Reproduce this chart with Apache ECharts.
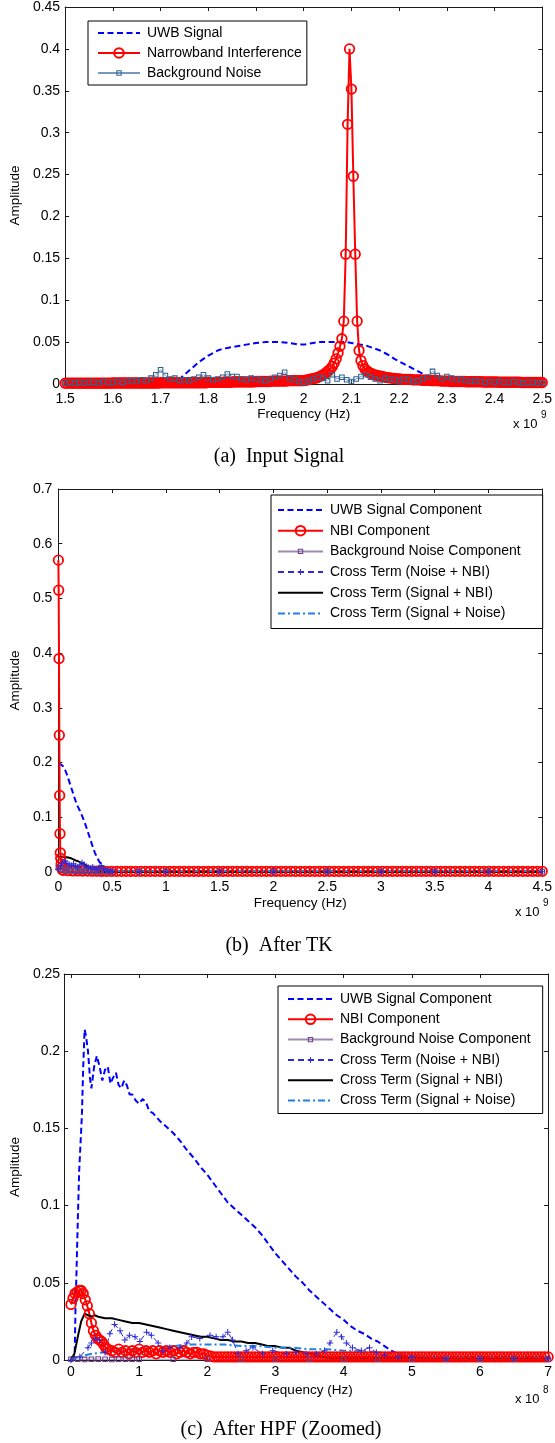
<!DOCTYPE html>
<html><head><meta charset="utf-8">
<script src="https://cdn.jsdelivr.net/npm/echarts@6/dist/echarts.min.js"></script>
<style>html,body{margin:0;padding:0;background:#fff}#c{width:555px;height:1443px}</style>
</head><body><div id="c"></div>
<script>
// ---------------- (a) Input Signal ----------------
const aXTicks = {min: 1.5, max: 2.5, interval: 0.1};
const aYTicks = {min: 0, max: 0.45, interval: 0.05};
const aUwbStart = 1.5, aUwbStep = 0.01;
const aUwb = [0.001,0.001,0.001,0.001,0.001,0.001,0.001,0.001,0.001,0.001,0.001,0.001,0.001,0.001,0.001,0.001,0.001,0.001,0.001,0.001,0.001,0.001,0.001,
0.002,0.006,0.011,0.016,0.021,0.026,0.03,0.034,0.037,0.04,0.042,0.043,0.044,0.045,0.046,0.047,0.048,0.049,0.0495,0.05,0.05,0.05,0.05,0.0495,0.049,0.048,0.047,
0.047,0.048,0.049,0.05,0.05,0.05,0.05,0.05,0.05,0.05,0.049,0.048,0.047,0.046,0.044,0.042,0.04,0.037,0.034,0.03,0.027,0.024,0.021,0.018,0.015,0.012,0.009,0.006,0.004,0.002,
0.001,0.001,0.001,0.001,0.001,0.001,0.001,0.001,0.001,0.001,0.001,0.001,0.001,0.001,0.001,0.001,0.001,0.001,0.001,0.001,0.001];
const aNbiStart = 1.5, aNbiStep = 0.004;
const aNbi = [
0.001,0.001,0.001,0.001,0.001,0.001,0.001,0.001,0.001,0.001,0.001,0.001,0.001,0.001,0.001,0.001,0.001,0.001,0.001,0.001,0.001,0.001,0.001,0.001,0.001,
0.0012,0.0012,0.0012,0.0012,0.0012,0.0012,0.0012,0.0012,0.0012,0.0012,0.0012,0.0012,0.0012,0.0012,0.0012,0.0012,0.0012,0.0012,0.0012,0.0012,0.0012,0.0012,0.0012,0.0012,0.0012,
0.0015,0.0015,0.0015,0.0015,0.0015,0.0015,0.0015,0.0015,0.0015,0.0015,0.0015,0.0015,0.0015,0.0015,0.0015,0.0015,0.0015,0.0015,0.0015,0.0015,0.0015,0.0015,0.0015,0.0015,0.0015,
0.002,0.002,0.002,0.002,0.002,0.002,0.002,0.002,0.002,0.002,0.002,0.002,0.002,0.0025,0.0025,0.0025,0.0025,0.0025,0.0025,0.0025,0.0025,0.0025,0.0025,0.0025,0.0025,
0.003,0.003,0.003,0.003,0.003,0.003,0.003,0.003,0.0035,0.0035,0.0035,0.0035,0.0035,0.0035,0.0035,0.0035,0.0035,0.004,0.004,0.004,0.004,0.004,0.004,0.004,0.004,0.004,
0.0045,0.005,0.0055,0.006,0.0065,0.007,0.0075,0.0085,0.0095,0.011,0.012,0.014,0.016,0.018,0.021,
0.025,0.03,0.037,0.045,0.054,0.075,0.155,0.31,
0.4,
0.352,0.248,0.155,0.075,0.04,0.028,0.022,0.018,0.016,0.014,0.013,0.012,
0.011,0.0105,0.01,0.0095,0.009,0.0085,0.008,0.0077,0.0074,0.0071,0.0068,0.0065,0.0062,0.006,0.0057,
0.0055,0.0055,0.0055,0.0055,0.0055,0.005,0.005,0.005,0.005,0.005,0.0045,0.0045,0.0045,0.0045,0.0045,0.004,0.004,0.004,0.004,0.004,0.0035,0.0035,0.0035,0.0035,0.0035,
0.003,0.003,0.003,0.003,0.003,0.003,0.003,0.003,0.0027,0.0027,0.0027,0.0027,0.0027,0.0027,0.0027,0.0027,0.0027,0.0024,0.0024,0.0024,0.0024,0.0024,0.0024,0.0024,0.0024,
0.0021,0.0021,0.0021,0.0021,0.0021,0.0021,0.0021,0.0021,0.0021,0.0021,0.0021,0.0021,0.0018,0.0018,0.0018,0.0018,0.0018,0.0018,0.0018,0.0018,0.0018,0.0018,0.0018,0.0018];
const aNoiseStart = 1.5, aNoiseStep = 0.01;
const aNoise = [0.001,0.002,0.001,0.002,0.001,0.002,0.002,0.001,0.003,0.002,
0.002,0.003,0.002,0.003,0.004,0.003,0.005,0.004,0.007,0.011,
0.017,0.01,0.006,0.007,0.004,0.005,0.004,0.006,0.008,0.011,
0.007,0.005,0.006,0.008,0.012,0.009,0.009,0.006,0.005,0.007,
0.006,0.005,0.004,0.006,0.008,0.01,0.014,0.007,0.005,0.003,
0.002,0.004,0.006,0.008,0.007,0.004,0.011,0.006,0.008,0.005,
0.003,0.006,0.009,0.011,0.008,0.006,0.004,0.007,0.006,0.005,
0.004,0.006,0.005,0.003,0.004,0.006,0.008,0.015,0.01,0.006,
0.009,0.007,0.005,0.006,0.004,0.003,0.004,0.003,0.002,0.003,
0.002,0.003,0.002,0.002,0.003,0.002,0.001,0.002,0.002,0.001,0.001];

// ---------------- (b) After TK ----------------
const bXTicks = {min: 0, max: 4.5, interval: 0.5};
const bYTicks = {min: 0, max: 0.7, interval: 0.1};
const bX = [0,0.02,0.04,0.06,0.08,0.1,0.12,0.14,0.16,0.18,0.2,0.22,0.24,0.26,0.28,0.3,0.32,0.34,0.36,0.38,0.4,0.42,0.44,0.46,0.48,0.5,0.75,1,1.5,2,2.5,3,3.5,4,4.5];
const bUwb = [0.198,0.197,0.194,0.188,0.178,0.166,0.154,0.142,0.13,0.12,0.112,0.103,0.093,0.082,0.07,0.058,0.046,0.035,0.026,0.019,0.014,0.01,0.006,0.004,0.002,0.001,0.001,0.001,0.001,0.001,0.001,0.001,0.001,0.001,0.001];
const bNoise = [0.008,0.004,0.006,0.003,0.002,0.004,0.002,0.003,0.002,0.001,0.002,0.001,0.002,0.001,0.001,0.002,0.001,0.001,0.001,0.001,0.001,0.001,0.001,0.0005,0.0005,0.0005,0.0005,0.0005,0.0005,0.0005,0.0005,0.0005,0.0005,0.0005,0.0005];
const bCrossNoiseNbi = [0.005,0.012,0.018,0.02,0.016,0.014,0.012,0.015,0.011,0.009,0.013,0.017,0.014,0.01,0.008,0.007,0.009,0.006,0.005,0.008,0.012,0.007,0.004,0.003,0.002,0.001,0.0005,0.0005,0.0005,0.0005,0.0005,0.0005,0.0005,0.0005,0.0005];
const bCrossSigNbi = [0.027,0.028,0.028,0.027,0.027,0.026,0.025,0.023,0.021,0.02,0.018,0.016,0.014,0.012,0.01,0.009,0.007,0.005,0.004,0.002,0.001,0.0005,0.0005,0.0005,0.0005,0.0005,0.0005,0.0005,0.0005,0.0005,0.0005,0.0005,0.0005,0.0005,0.0005];
const bCrossSigNoise = [0.01,0.011,0.012,0.012,0.012,0.012,0.011,0.011,0.01,0.01,0.01,0.009,0.009,0.008,0.008,0.007,0.006,0.005,0.005,0.004,0.004,0.003,0.003,0.003,0.002,0.002,0.002,0.002,0.002,0.002,0.002,0.002,0.002,0.002,0.002];
const bNbiHeadX = [0,0.003,0.006,0.009,0.012,0.015,0.018,0.022,0.026,0.031,0.037];
const bNbiHeadY = [0.57,0.515,0.39,0.25,0.14,0.07,0.035,0.025,0.015,0.008,0.004];
const bNbiTailStart = 0.045, bNbiTailStep = 0.045;
const bNbiTail = [0.003,0.0025,0.002,0.002,0.0018,0.0016,0.0015,0.0015,0.0014,0.0013,
0.0012,0.0012,0.0012,0.0012,0.0012,0.0012,0.0012,0.0012,0.0012,0.0012,
0.0012,0.0012,0.0012,0.0012,0.0012,0.0012,0.0012,0.0012,0.0012,0.0012,
0.0012,0.0012,0.0012,0.0012,0.0012,0.0012,0.0012,0.0012,0.0012,0.0012,
0.0012,0.0012,0.0012,0.0012,0.0012,0.0012,0.0012,0.0012,0.0012,0.0012,
0.0012,0.0012,0.0012,0.0012,0.0012,0.0012,0.0012,0.0012,0.0012,0.0012,
0.0012,0.0012,0.0012,0.0012,0.0012,0.0012,0.0012,0.0012,0.0012,0.0012,
0.0012,0.0012,0.0012,0.0012,0.0012,0.0012,0.0012,0.0012,0.0012,0.0012,
0.0012,0.0012,0.0012,0.0012,0.0012,0.0012,0.0012,0.0012,0.0012,0.0012,
0.0012,0.0012,0.0012,0.0012,0.0012,0.0012,0.0012,0.0012,0.0012,0.0012];

// ---------------- (c) After HPF (Zoomed) ----------------
const cXTicks = {min: -0.1, max: 7, labels: [0,1,2,3,4,5,6,7]};
const cYTicks = {min: 0, max: 0.25, interval: 0.05};
const cUwbX = [0,0.04,0.055,0.065,0.08,0.1,0.12,0.14,0.16,0.18,0.2,0.22,0.25,0.28,0.3,0.34,0.38,0.42,0.46,0.5,0.54,0.58,0.62,0.66,0.7,0.74,0.78,0.82,0.86,0.9,0.95,1.0,1.05,1.1,1.15,1.2,1.3,1.4,1.5,1.6,1.7,1.8,1.9,2.0,2.1,2.2,2.3,2.4,2.5,2.6,2.7,2.8,2.9,3.0,3.1,3.2,3.3,3.4,3.5,3.6,3.7,3.8,3.9,4.0,4.1,4.2,4.3,4.4,4.5,4.6,4.7,4.8,4.9,5.0,5.5,6.0,6.5,7.0];
const cUwbY = [0,0.001,0.005,0.03,0.055,0.09,0.122,0.14,0.158,0.19,0.214,0.21,0.2,0.182,0.176,0.19,0.197,0.19,0.181,0.188,0.19,0.179,0.183,0.186,0.178,0.176,0.181,0.178,0.172,0.172,0.168,0.166,0.169,0.167,0.161,0.16,0.155,0.151,0.147,0.142,0.136,0.131,0.125,0.12,0.114,0.108,0.102,0.098,0.094,0.09,0.086,0.081,0.075,0.069,0.064,0.059,0.054,0.05,0.045,0.041,0.037,0.033,0.029,0.026,0.022,0.019,0.017,0.014,0.012,0.009,0.006,0.004,0.003,0.002,0.001,0.001,0.001,0.001];
const cNbiHeadX = [0,0.03,0.06,0.09,0.12,0.15,0.18,0.21,0.24,0.27,0.3,0.33,0.36,0.39,0.42,0.45,0.48,0.51,0.54];
const cNbiHeadY = [0.036,0.04,0.043,0.044,0.045,0.045,0.043,0.039,0.035,0.03,0.024,0.019,0.016,0.014,0.013,0.012,0.01,0.008,0.007];
const cNbiTailStart = 0.6, cNbiTailStep = 0.05;
const cNbiTail = [0.006,0.005,0.007,0.005,0.006,0.004,0.006,0.005,0.007,0.005,0.006,0.005,0.006,0.004,0.006,0.005,0.006,0.005,0.006,0.004,0.005,0.006,0.005,0.004,0.005,0.005,0.004,0.004,0.003,
0.0025,0.002,0.002,0.002,0.002,0.002,0.002,0.002,0.002,0.002,0.002,0.002,0.002,0.002,0.002,0.002,0.002,0.002,0.002,0.002,
0.002,0.002,0.002,0.002,0.002,0.002,0.002,0.002,0.002,0.002,0.002,0.002,0.002,0.002,0.002,0.002,0.002,0.002,0.002,0.002,
0.002,0.002,0.002,0.002,0.002,0.002,0.002,0.002,0.002,0.002,0.002,0.002,0.002,0.002,0.002,0.002,0.002,0.002,0.002,0.002,
0.002,0.002,0.002,0.002,0.002,0.002,0.002,0.002,0.002,0.002,0.002,0.002,0.002,0.002,0.002,0.002,0.002,0.002,0.002,0.002,
0.002,0.002,0.002,0.002,0.002,0.002,0.002,0.002,0.002,0.002,0.002,0.002,0.002,0.002,0.002,0.002,0.002,0.002,0.002,0.002];
const cNoiseX = [0,0.1,0.2,0.3,0.4,0.5,0.6,0.7,0.8,0.9,1.0,1.5,2,2.5,3,3.5,4,4.5,5,5.5,6,6.5,7];
const cNoiseY = [0.0005,0.0006,0.0004,0.0005,0.0006,0.0005,0.0004,0.0005,0.0006,0.0005,0.0005,0.0005,0.0005,0.0005,0.0005,0.0005,0.0005,0.0005,0.0005,0.0005,0.0005,0.0005,0.0005];
const cCrossNoiseNbiX = [0,0.13,0.25,0.3,0.35,0.42,0.5,0.57,0.64,0.72,0.79,0.86,0.94,1.01,1.11,1.18,1.28,1.35,1.45,1.6,1.7,1.77,1.89,2.04,2.13,2.23,2.3,2.37,2.45,2.57,2.67,2.81,2.96,3.16,3.3,3.45,3.6,3.72,3.8,3.9,3.97,4.04,4.13,4.26,4.38,4.48,4.6,4.8,5.0,5.5,6.0,6.5,7.0];
const cCrossNoiseNbiY = [0,0.002,0.008,0.011,0.014,0.013,0.005,0.017,0.023,0.019,0.013,0.016,0.015,0.012,0.018,0.016,0.011,0.006,0.008,0.008,0.011,0.015,0.014,0.016,0.015,0.015,0.018,0.013,0.004,0.006,0.008,0.004,0.006,0.004,0.005,0.004,0.004,0.006,0.011,0.018,0.015,0.011,0.008,0.006,0.008,0.005,0.003,0.002,0.002,0.001,0.001,0.001,0.001];
const cCrossSigNbiX = [0,0.05,0.1,0.15,0.2,0.25,0.3,0.35,0.4,0.5,0.6,0.7,0.8,0.9,1.0,1.1,1.2,1.3,1.4,1.5,1.6,1.7,1.8,1.9,2.0,2.1,2.2,2.3,2.4,2.5,2.6,2.7,2.8,2.9,3.0,3.1,3.2,3.3,3.4,3.5,3.6,3.7,3.8,4.0,5.0,6.0,7.0];
const cCrossSigNbiY = [0,0.004,0.015,0.025,0.03,0.029,0.028,0.029,0.028,0.027,0.027,0.026,0.025,0.024,0.024,0.023,0.022,0.021,0.02,0.019,0.018,0.017,0.016,0.015,0.015,0.014,0.013,0.013,0.012,0.012,0.011,0.011,0.01,0.009,0.009,0.008,0.008,0.006,0.005,0.004,0.003,0.002,0.001,0.001,0.001,0.001,0.001];
const cCrossSigNoiseX = [0,0.1,0.2,0.3,0.5,0.75,1.0,1.25,1.5,1.75,2.0,2.25,2.5,2.75,3.0,3.25,3.5,3.75,4.0,4.25,4.5,4.75,5.0,5.25,5.5,6.0,6.5,7.0];
const cCrossSigNoiseY = [0,0.002,0.003,0.004,0.005,0.006,0.007,0.008,0.009,0.01,0.01,0.01,0.009,0.009,0.008,0.008,0.007,0.007,0.006,0.006,0.005,0.004,0.003,0.002,0.002,0.002,0.002,0.002];

const namesA = ['UWB Signal', 'Narrowband Interference', 'Background Noise'];
const namesBC = ['UWB Signal Component', 'NBI Component', 'Background Noise Component',
  'Cross Term (Noise + NBI)', 'Cross Term (Signal + NBI)', 'Cross Term (Signal + Noise)'];

// ---------------- helpers ----------------
const seq = (x0, dx, ys) => ys.map((v, i) => [Math.round((x0 + i * dx) * 1e6) / 1e6, v]);
const zip = (xs, ys) => xs.map((x, i) => [x, ys[i]]);
const SANS = 'Liberation Sans, Arial, Helvetica, sans-serif';
const SERIF = 'Liberation Serif, Times New Roman, serif';
const CLEAR = 'rgba(0,0,0,0)';
// marker shapes drawn in a 16x16 box (corner pins keep the box, so legend and plot scale alike)
const PIN = 'M0,0L0,0ZM16,16L16,16Z';
const NO_MARK = 'path://' + PIN;
const SQUARE = 'path://' + PIN + 'M3.5,3.5H12.5V12.5H3.5ZM5.2,5.2V10.8H10.8V5.2Z';
const PLUS = 'path://' + PIN + 'M7.2,3H8.8V7.2H13V8.8H8.8V13H7.2V8.8H3V7.2H7.2Z';

const ST = {
  uwb: {symbol: NO_MARK, showSymbol: false, lineStyle: {color: '#0000ff', width: 2, type: [6, 3.5]}, itemStyle: {color: '#0000ff'}},
  nbi: {symbol: 'circle', symbolSize: 9.5, lineStyle: {color: '#ff0000', width: 2},
        itemStyle: {color: CLEAR, borderColor: '#ff0000', borderWidth: 1.8}},
  noiseA: {symbol: SQUARE, symbolSize: 10, lineStyle: {color: '#7899bb', width: 1},
        itemStyle: {color: '#2f628e'}},
  noiseBC: {symbol: SQUARE, symbolSize: 10, lineStyle: {color: '#9d8bb2', width: 1},
        itemStyle: {color: '#703f88'}},
  cnn: {symbol: PLUS, symbolSize: 10, lineStyle: {color: '#2b2bd8', width: 1, type: [6, 4]}, itemStyle: {color: '#2b2bd8'}},
  csn: {symbol: NO_MARK, showSymbol: false, lineStyle: {color: '#000000', width: 2}, itemStyle: {color: '#000000'}},
  csno: {symbol: NO_MARK, showSymbol: false, lineStyle: {color: '#1f80e6', width: 2, type: [7, 3, 2, 3]}, itemStyle: {color: '#1f80e6'}}
};

function mk(name, gi, data, st) {
  return Object.assign({
    type: 'line', name, data, xAxisIndex: gi * 2, yAxisIndex: gi * 2,
    showAllSymbol: true, clip: false, silent: true, animation: false,
    emphasis: {disabled: true}
  }, st);
}

const axisLineS = {show: true, onZero: false, lineStyle: {color: '#1a1a1a', width: 1}};
const tickS = {show: true, inside: true, length: 4, lineStyle: {color: '#1a1a1a', width: 1}};
const labelS = {color: '#000', fontSize: 14, fontFamily: SANS};
const nameS = {color: '#000', fontSize: 13.5, fontFamily: SANS};

function xAxes(gi, t, labelMargin, nameGap) {
  const base = {type: 'value', gridIndex: gi, min: t.min, max: t.max, splitLine: {show: false},
    axisLine: axisLineS};
  if (t.interval !== undefined) base.interval = t.interval;
  const tick = Object.assign({}, tickS), lab = Object.assign({margin: labelMargin}, labelS);
  if (t.labels) { tick.customValues = t.labels; lab.customValues = t.labels; }
  return [
    Object.assign({}, base, {position: 'bottom', axisTick: tick, axisLabel: lab,
      name: 'Frequency (Hz)', nameLocation: 'middle', nameGap, nameTextStyle: nameS}),
    Object.assign({}, base, {position: 'top', axisTick: tick, axisLabel: {show: false}})
  ];
}
function yAxes(gi, t, labelMargin, nameGap) {
  const base = {type: 'value', gridIndex: gi, min: t.min, max: t.max, interval: t.interval,
    splitLine: {show: false}, axisLine: axisLineS, axisTick: tickS};
  return [
    Object.assign({}, base, {position: 'left', axisLabel: Object.assign({margin: labelMargin}, labelS),
      name: 'Amplitude', nameLocation: 'middle', nameGap, nameTextStyle: nameS}),
    Object.assign({}, base, {position: 'right', axisLabel: {show: false}})
  ];
}
function legend(names, left, top, padding, itemWidth, itemGap) {
  return {orient: 'vertical', left, top, padding, itemWidth, itemHeight: 12, itemGap,
    borderColor: '#000', borderWidth: 1, backgroundColor: '#fff', borderRadius: 0,
    selectedMode: false, data: names,
    textStyle: {color: '#000', fontSize: 14, fontFamily: SANS, lineHeight: 14, padding: [0, 0, 0, 2]}};
}

const series = [
  mk(namesA[0], 0, seq(aUwbStart, aUwbStep, aUwb), ST.uwb),
  mk(namesA[1], 0, seq(aNbiStart, aNbiStep, aNbi), ST.nbi),
  mk(namesA[2], 0, seq(aNoiseStart, aNoiseStep, aNoise), ST.noiseA),

  mk(namesBC[0], 1, zip(bX, bUwb), ST.uwb),
  mk(namesBC[1], 1, zip(bNbiHeadX, bNbiHeadY).concat(seq(bNbiTailStart, bNbiTailStep, bNbiTail)), ST.nbi),
  mk(namesBC[2], 1, zip(bX, bNoise), ST.noiseBC),
  mk(namesBC[3], 1, zip(bX, bCrossNoiseNbi), ST.cnn),
  mk(namesBC[4], 1, zip(bX, bCrossSigNbi), ST.csn),
  mk(namesBC[5], 1, zip(bX, bCrossSigNoise), ST.csno),

  mk(namesBC[0], 2, zip(cUwbX, cUwbY), ST.uwb),
  mk(namesBC[1], 2, zip(cNbiHeadX, cNbiHeadY).concat(seq(cNbiTailStart, cNbiTailStep, cNbiTail)), ST.nbi),
  mk(namesBC[2], 2, zip(cNoiseX, cNoiseY), ST.noiseBC),
  mk(namesBC[3], 2, zip(cCrossNoiseNbiX, cCrossNoiseNbiY), ST.cnn),
  mk(namesBC[4], 2, zip(cCrossSigNbiX, cCrossSigNbiY), ST.csn),
  mk(namesBC[5], 2, zip(cCrossSigNoiseX, cCrossSigNoiseY), ST.csno)
];

function txt(x, y, text, size, family, align) {
  return {type: 'text', x, y, silent: true,
    style: {text, fill: '#000', font: size + 'px ' + family, textAlign: align || 'left', textVerticalAlign: 'middle'}};
}

const option = {
  animation: false,
  backgroundColor: '#fff',
  grid: [
    {left: 65, right: 8, top: 7, height: 377},
    {left: 57, right: 7, top: 489, height: 383},
    {left: 64, right: 6, top: 974, height: 386}
  ],
  xAxis: [].concat(xAxes(0, aXTicks, 8, 23), xAxes(1, bXTicks, 8, 24), xAxes(2, cXTicks, 5, 23)),
  yAxis: [].concat(yAxes(0, aYTicks, 5, 42), yAxes(1, bYTicks, 6, 34), yAxes(2, cYTicks, 4, 41)),
  legend: [
    legend(namesA, 88, 21, [5, 5, 5, 9], 42, 6),
    legend(namesBC, 271, 495, [8, 22, 8, 6], 45, 6.7),
    legend(namesBC, 278, 986, [6, 12, 6, 9], 45, 6.3)
  ],
  series,
  graphic: [
    txt(513, 424, 'x 10', 13, SANS), txt(541, 415, '9', 10, SANS),
    txt(515, 912, 'x 10', 13, SANS), txt(543, 903, '9', 10, SANS),
    txt(515, 1399, 'x 10', 13, SANS), txt(543, 1390, '8', 10, SANS),
    txt(279, 457, '(a)  Input Signal', 20, SERIF, 'center'),
    txt(279, 946, '(b)  After TK', 20, SERIF, 'center'),
    txt(281, 1430, '(c)  After HPF (Zoomed)', 20, SERIF, 'center')
  ]
};

const chart = echarts.init(document.getElementById('c'), null, {renderer: 'canvas'});
chart.setOption(option);
</script></body></html>
